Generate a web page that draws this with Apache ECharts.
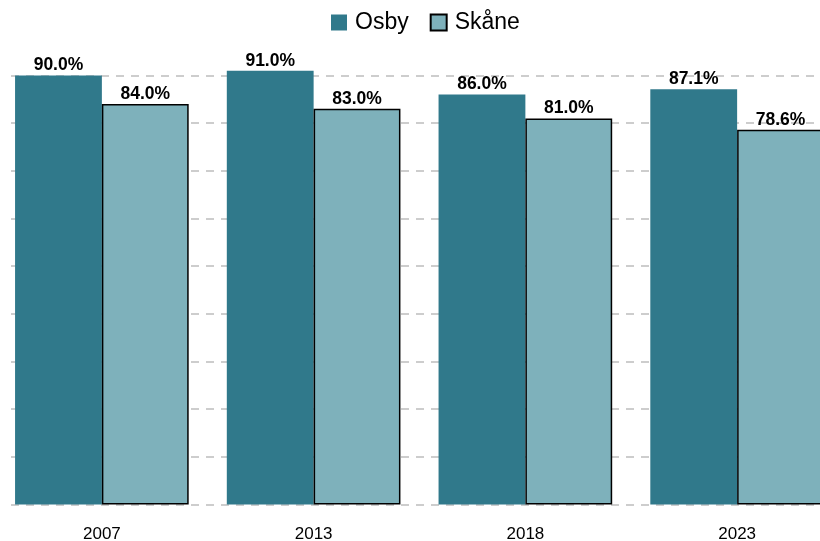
<!DOCTYPE html>
<html>
<head>
<meta charset="utf-8">
<script src="https://cdn.jsdelivr.net/npm/echarts@6/dist/echarts.min.js"></script>
<style>
  html, body { margin: 0; padding: 0; background: #fff; }
  #chart { width: 820px; height: 541px; }
</style>
</head>
<body>
<div id="chart"></div>
<script>
// data
const years = ["2007", "2013", "2018", "2023"];
const osby = [90.0, 91.0, 86.0, 87.1];
const skane = [84.0, 83.0, 81.0, 78.6];

const myChart = echarts.init(document.getElementById("chart"));

const labelStyle = {
  show: true,
  position: "top",
  distance: 1,
  color: "#000",
  fontFamily: "Liberation Sans, Arial, sans-serif",
  fontWeight: "bold",
  fontSize: 17.5,
  formatter: p => p.value.toFixed(1) + "%"
};

const option = {
  animation: false,
  backgroundColor: "#fff",
  legend: {
    top: 6,
    left: 326,
    icon: "rect",
    itemWidth: 16,
    itemHeight: 16,
    itemGap: 21,
    selectedMode: false,
    textStyle: {
      color: "#000",
      fontFamily: "Liberation Sans, Arial, sans-serif",
      fontSize: 23,
      padding: [0, 0, 0, 3]
    },
    data: ["Osby", "Skåne"]
  },
  grid: {
    left: -4,
    width: 847,
    top: 75.5,
    bottom: 36.5,
    outerBoundsMode: "none"
  },
  xAxis: {
    type: "category",
    data: years,
    axisLine: { show: false },
    axisTick: { show: false },
    axisLabel: {
      color: "#000",
      fontFamily: "Liberation Sans, Arial, sans-serif",
      fontSize: 17,
      margin: 21
    }
  },
  yAxis: {
    type: "value",
    min: 0,
    max: 90,
    interval: 10,
    axisLabel: { show: false },
    axisLine: { show: false },
    axisTick: { show: false },
    splitLine: {
      lineStyle: { color: "#bdbdbd", type: [8, 7], width: 1.5 }
    }
  },
  graphic: [{
    type: "rect",
    left: 0,
    top: 60,
    z: 100,
    shape: { width: 8, height: 460 },
    style: { fill: "#fff" }
  }],
  series: [
    {
      name: "Osby",
      type: "bar",
      data: osby,
      clip: false,
      barGap: "0%",
      barCategoryGap: "18%",
      itemStyle: { color: "#30798b" },
      label: labelStyle
    },
    {
      name: "Skåne",
      type: "bar",
      data: skane,
      clip: false,
      barGap: "0%",
      barCategoryGap: "18%",
      itemStyle: { color: "#7eb1bb", borderColor: "#000", borderWidth: 1.5 },
      label: labelStyle
    }
  ]
};

myChart.setOption(option);
</script>
</body>
</html>
